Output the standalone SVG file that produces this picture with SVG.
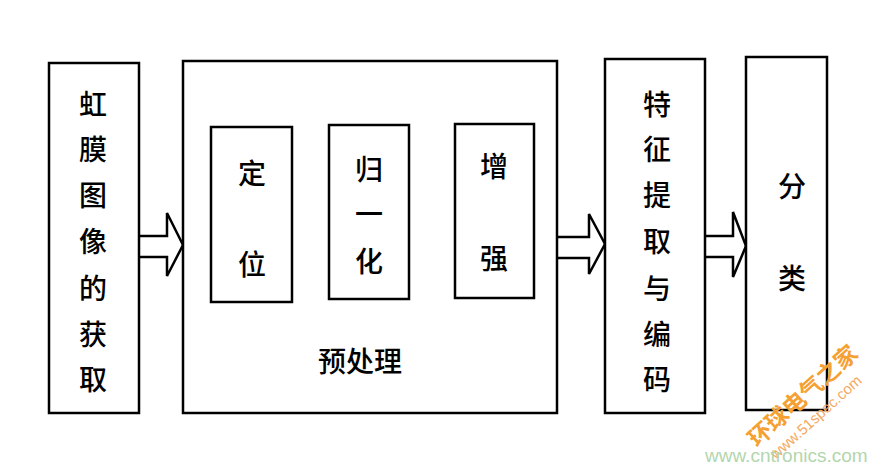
<svg xmlns="http://www.w3.org/2000/svg" width="888" height="472" viewBox="0 0 888 472">
<style>
.box{fill:#fff;stroke:#000;stroke-width:2.5}
.ibox{fill:#fff;stroke:#000;stroke-width:2.5}
.t{font-family:"Noto Sans CJK SC","Noto Sans CJK TC",sans-serif;font-size:28px;font-weight:500;fill:#000;text-anchor:middle;dominant-baseline:central}
.arr{fill:#fff;stroke:#000;stroke-width:2.5;stroke-linejoin:miter}
.wm1{font-family:"Noto Sans CJK SC",sans-serif;font-size:23px;fill:#f5a033;font-weight:bold}
.wm2{font-family:"Liberation Sans",sans-serif;font-size:15px;fill:#f5a860}
.wm3{font-family:"Liberation Sans",sans-serif;font-size:19px;fill:#b3d6ad}
</style>
<rect width="888" height="472" fill="#fff"/>
<g id="connectors">
<path class="arr" d="M139,236 H167 V213 L183,245 L167,276 V257 H139"/>
<path class="arr" d="M557,237 H589 V214 L605,244 L589,274 V258 H557"/>
<path class="arr" d="M705,236 H733 V212 L746,246 L733,277 V257 H705"/>
</g>
<g id="acquire">
<rect class="box" x="49" y="63" width="90" height="350"/>
<text class="t" x="93" y="103">虹</text>
<text class="t" x="93" y="148">膜</text>
<text class="t" x="93" y="194">图</text>
<text class="t" x="93" y="240">像</text>
<text class="t" x="93" y="287">的</text>
<text class="t" x="93" y="333">获</text>
<text class="t" x="93" y="378">取</text>
</g>
<g id="preprocess">
<rect class="box" x="183" y="61" width="374" height="352"/>
<text class="t" x="360" y="360">预处理</text>
</g>
<g id="locate">
<rect class="ibox" x="211" y="127" width="81" height="175"/>
<text class="t" x="252" y="172">定</text>
<text class="t" x="252" y="263">位</text>
</g>
<g id="normalize">
<rect class="ibox" x="329" y="125" width="80" height="174"/>
<text class="t" x="369" y="168">归</text>
<text class="t" x="369" y="213">一</text>
<text class="t" x="369" y="260">化</text>
</g>
<g id="enhance">
<rect class="ibox" x="455" y="124" width="79" height="174"/>
<text class="t" x="494" y="165">增</text>
<text class="t" x="494" y="257">强</text>
</g>
<g id="feature">
<rect class="box" x="605" y="59" width="100" height="354"/>
<text class="t" x="657" y="103">特</text>
<text class="t" x="657" y="148">征</text>
<text class="t" x="657" y="194">提</text>
<text class="t" x="657" y="240">取</text>
<text class="t" x="657" y="287">与</text>
<text class="t" x="657" y="333">编</text>
<text class="t" x="657" y="378">码</text>
</g>
<g id="classify">
<rect class="box" x="746" y="57" width="81" height="353"/>
<text class="t" x="792" y="185">分</text>
<text class="t" x="792" y="277">类</text>
</g>
<g id="watermark">
<text class="wm1" transform="translate(757,448) rotate(-42)">环球电气之家</text>
<text class="wm2" transform="translate(776,460) rotate(-42)">www.51spec.com</text>
<text class="wm3" x="705" y="462">www.cntronics.com</text>
</g>
</svg>
